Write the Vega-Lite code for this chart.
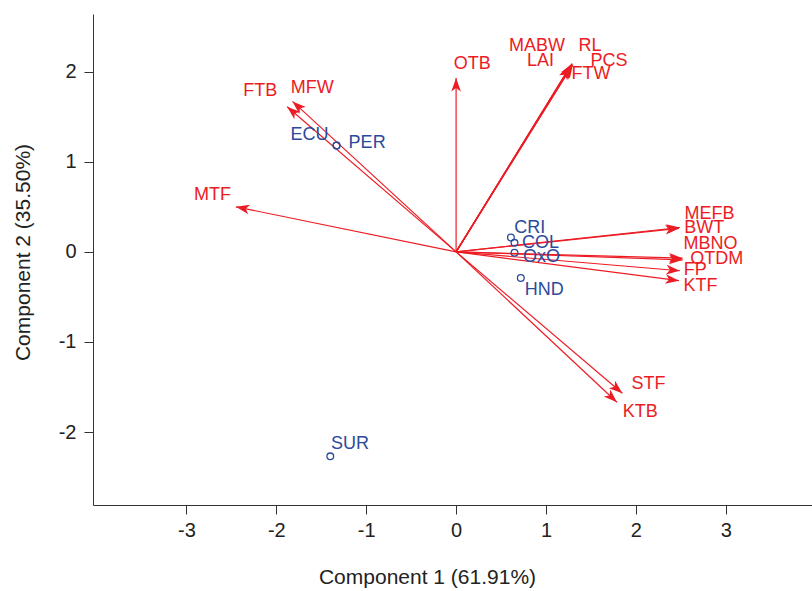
{
  "$schema": "https://vega.github.io/schema/vega-lite/v6.json",
  "width": 719,
  "height": 491,
  "autosize": "none",
  "padding": {"left": 93, "top": 14, "right": 0, "bottom": 86},
  "config": {
    "view": {"stroke": null},
    "font": "Liberation Sans"
  },
  "datasets": {
    "loadings": [
      {"var": "OTB", "x": 0.0, "y": 1.93, "lx": 0.18, "ly": 2.09},
      {"var": "MABW", "x": 1.28, "y": 2.07, "lx": 0.9, "ly": 2.28},
      {"var": "RL", "x": 1.29, "y": 2.09, "lx": 1.49, "ly": 2.28},
      {"var": "LAI", "x": 1.27, "y": 2.06, "lx": 0.94, "ly": 2.12},
      {"var": "PCS", "x": 1.3, "y": 2.08, "lx": 1.7, "ly": 2.12},
      {"var": "FTW", "x": 1.29, "y": 2.07, "lx": 1.5, "ly": 1.97},
      {"var": "FTB", "x": -1.88, "y": 1.61, "lx": -2.18, "ly": 1.78},
      {"var": "MFW", "x": -1.82, "y": 1.67, "lx": -1.6, "ly": 1.82},
      {"var": "MTF", "x": -2.45, "y": 0.5, "lx": -2.71, "ly": 0.63},
      {"var": "MEFB", "x": 2.49, "y": 0.27, "lx": 2.82, "ly": 0.42},
      {"var": "BWT", "x": 2.48, "y": 0.26, "lx": 2.76, "ly": 0.27},
      {"var": "MBNO", "x": 2.52, "y": -0.07, "lx": 2.83, "ly": 0.09},
      {"var": "OTDM", "x": 2.52, "y": -0.09, "lx": 2.9, "ly": -0.08},
      {"var": "FP", "x": 2.49, "y": -0.21, "lx": 2.66, "ly": -0.2},
      {"var": "KTF", "x": 2.48, "y": -0.32, "lx": 2.72, "ly": -0.38},
      {"var": "STF", "x": 1.85, "y": -1.57, "lx": 2.14, "ly": -1.47},
      {"var": "KTB", "x": 1.79, "y": -1.67, "lx": 2.05, "ly": -1.78}
    ],
    "scores": [
      {"pop": "ECU", "x": -1.33, "y": 1.18, "lx": -1.63, "ly": 1.3},
      {"pop": "PER", "x": -1.33, "y": 1.18, "lx": -0.99, "ly": 1.21},
      {"pop": "CRI", "x": 0.61, "y": 0.16, "lx": 0.82, "ly": 0.26},
      {"pop": "COL", "x": 0.65, "y": 0.1, "lx": 0.94, "ly": 0.1},
      {"pop": "OxO", "x": 0.65, "y": -0.01, "lx": 0.95, "ly": -0.06},
      {"pop": "HND", "x": 0.72, "y": -0.29, "lx": 0.98, "ly": -0.42},
      {"pop": "SUR", "x": -1.4, "y": -2.27, "lx": -1.18, "ly": -2.13}
    ]
  },
  "layer": [
    {
      "data": {"name": "loadings"},
      "mark": {"type": "rule", "color": "#ec1c24", "strokeWidth": 1.2},
      "encoding": {
        "x": {
          "field": "x", "type": "quantitative",
          "scale": {"domain": [-4.04, 3.96], "nice": false, "zero": false},
          "axis": {
            "values": [-3, -2, -1, 0, 1, 2, 3],
            "labelExpr": "datum.value < 0 ? '-' + abs(datum.value) : '' + datum.value",
            "title": "Component 1 (61.91%)",
            "grid": false, "domainColor": "#333333", "tickColor": "#333333", "tickSize": 9,
            "labelFont": "Liberation Sans", "labelFontSize": 20, "labelColor": "#222222", "labelPadding": 6,
            "titleFont": "Liberation Sans", "titleFontSize": 21, "titleFontWeight": "normal", "titleColor": "#222222", "titlePadding": 26,
            "titleX": 334, "titleAlign": "center"
          }
        },
        "y": {
          "field": "y", "type": "quantitative",
          "scale": {"domain": [-2.81, 2.64], "nice": false, "zero": false},
          "axis": {
            "values": [-2, -1, 0, 1, 2],
            "labelExpr": "datum.value < 0 ? '-' + abs(datum.value) : '' + datum.value",
            "title": "Component 2 (35.50%)",
            "grid": false, "domainColor": "#333333", "tickColor": "#333333", "tickSize": 9,
            "labelFont": "Liberation Sans", "labelFontSize": 20, "labelColor": "#222222", "labelPadding": 8,
            "titleFont": "Liberation Sans", "titleFontSize": 21, "titleFontWeight": "normal", "titleColor": "#222222", "titlePadding": 25,
            "titleY": 238, "titleAlign": "center"
          }
        },
        "x2": {"datum": 0},
        "y2": {"datum": 0}
      }
    },
    {
      "data": {"name": "loadings"},
      "transform": [{"calculate": "atan2(datum.x, datum.y) * 180 / PI", "as": "ang"}],
      "mark": {"type": "point", "filled": true, "color": "#ec1c24", "opacity": 1, "shape": "M0,0 L0.6,1.7 L0,1.25 L-0.6,1.7 Z", "size": 256, "strokeWidth": 0},
      "encoding": {
        "x": {"field": "x", "type": "quantitative"},
        "y": {"field": "y", "type": "quantitative"},
        "angle": {"field": "ang", "type": "quantitative", "scale": null}
      }
    },
    {
      "data": {"name": "loadings"},
      "mark": {"type": "text", "color": "#ec1c24", "fontSize": 18, "align": "center", "baseline": "middle"},
      "encoding": {
        "x": {"field": "lx", "type": "quantitative"},
        "y": {"field": "ly", "type": "quantitative"},
        "text": {"field": "var"}
      }
    },
    {
      "data": {"name": "scores"},
      "mark": {"type": "point", "shape": "circle", "filled": false, "color": "#2b4a9c", "size": 45, "strokeWidth": 1.3, "opacity": 1},
      "encoding": {
        "x": {"field": "x", "type": "quantitative"},
        "y": {"field": "y", "type": "quantitative"}
      }
    },
    {
      "data": {"name": "scores"},
      "mark": {"type": "text", "color": "#2b4a9c", "fontSize": 18, "align": "center", "baseline": "middle"},
      "encoding": {
        "x": {"field": "lx", "type": "quantitative"},
        "y": {"field": "ly", "type": "quantitative"},
        "text": {"field": "pop"}
      }
    }
  ]
}
